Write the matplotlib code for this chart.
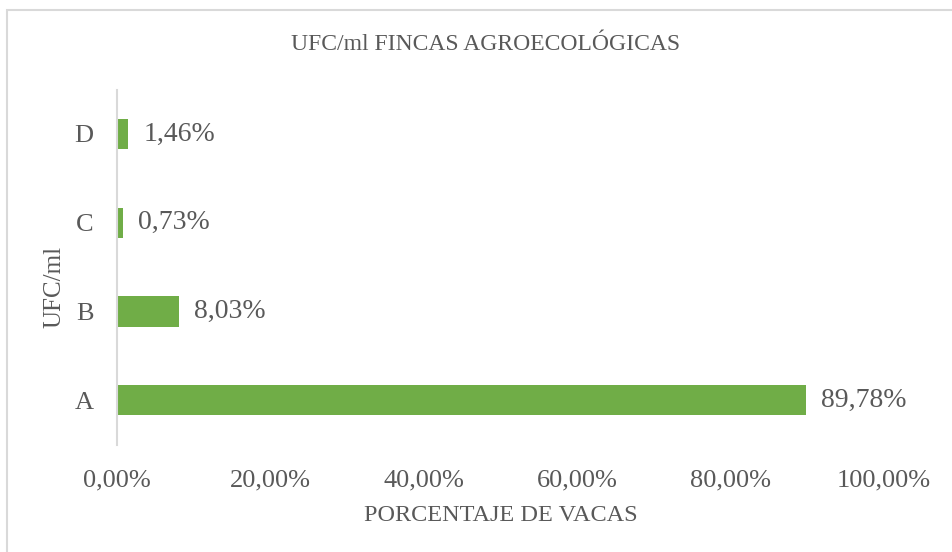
import matplotlib.pyplot as plt
import matplotlib.patches as patches
from matplotlib.ticker import FuncFormatter

# Chart data
categories = ["A", "B", "C", "D"]
values = [0.8978, 0.0803, 0.0073, 0.0146]
x_ticks = [0.0, 0.2, 0.4, 0.6, 0.8, 1.0]

bar_color = "#70AD47"
text_color = "#595959"
line_color = "#D9D9D9"

plt.rcParams['font.family'] = ['Liberation Serif', 'DejaVu Serif']

W, H = 953, 552


def pct(v, pos=None):
    """Format as percentage with comma decimal separator."""
    return f"{v * 100:.2f}%".replace(".", ",")


fig = plt.figure(figsize=(W / 100, H / 100), dpi=100)
ax = fig.add_axes([0.1228, 0.1947, 0.805, 0.643])

ax.barh(range(len(categories)), values, height=0.34, color=bar_color)
for i, v in enumerate(values):
    ax.text(v + 0.02, i, pct(v), va="center", ha="left", fontsize=20, color=text_color)

ax.set_xlim(0, 1.0)
ax.set_ylim(-0.5, len(categories) - 0.5)
ax.set_yticks(range(len(categories)))
ax.set_yticklabels(categories)
ax.set_xticks(x_ticks)
ax.xaxis.set_major_formatter(FuncFormatter(pct))
ax.tick_params(axis="both", length=0, labelsize=19, labelcolor=text_color)
ax.tick_params(axis="x", pad=18)
ax.tick_params(axis="y", pad=17)

for side in ["top", "right", "bottom"]:
    ax.spines[side].set_visible(False)
ax.spines["left"].set_color(line_color)
ax.spines["left"].set_linewidth(1.5)

ax.set_xlabel("PORCENTAJE DE VACAS", fontsize=17.5, color=text_color, labelpad=10)
fig.text(54 / W, 1 - 287 / H, "UFC/ml", rotation=90, ha="center", va="center",
         fontsize=18, color=text_color)
fig.text(0.5 + 0.01, 1 - 45 / H, "UFC/ml FINCAS AGROECOLÓGICAS", ha="center", va="center",
         fontsize=17, color=text_color)

# Outer chart border (extends past the right and bottom edges)
fig.add_artist(patches.Rectangle((7 / W, -0.1), 1.2, 1.1 - 10 / H, transform=fig.transFigure,
                                 fill=False, edgecolor=line_color, linewidth=1.5))

fig.savefig("out.png", dpi=100)
